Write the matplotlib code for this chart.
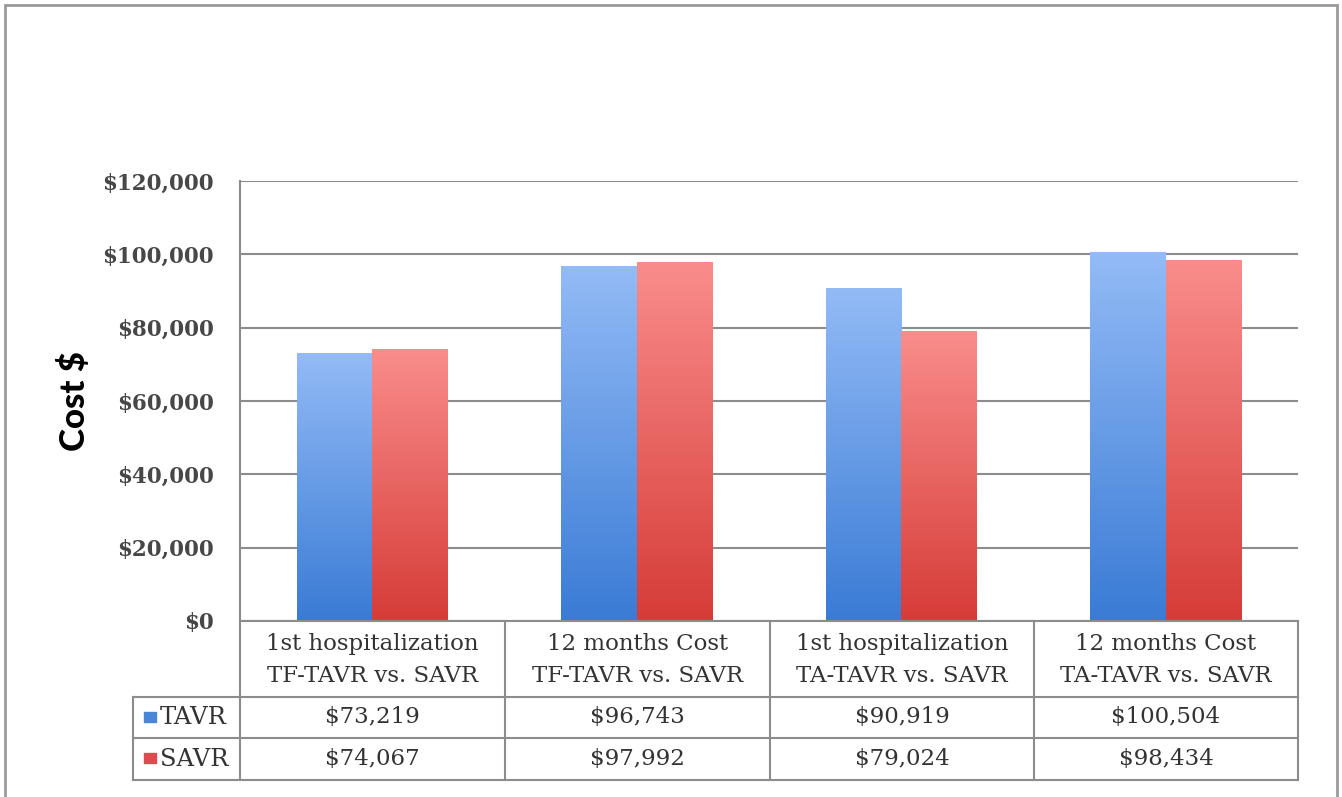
import matplotlib
matplotlib.use("Agg")
import matplotlib.pyplot as plt
import numpy as np
from matplotlib.patches import Rectangle
from matplotlib.lines import Line2D

categories = ["1st hospitalization\nTF-TAVR vs. SAVR",
              "12 months Cost\nTF-TAVR vs. SAVR",
              "1st hospitalization\nTA-TAVR vs. SAVR",
              "12 months Cost\nTA-TAVR vs. SAVR"]
series_names = ["TAVR", "SAVR"]
tavr = [73219, 96743, 90919, 100504]
savr = [74067, 97992, 79024, 98434]
yticks = [0, 20000, 40000, 60000, 80000, 100000, 120000]

W, H = 1342, 797
fig = plt.figure(figsize=(W / 100, H / 100), dpi=100)
fig.patch.set_facecolor("white")

def fx(px):
    return px / W

def fy(py):
    return 1 - py / H

serif = "DejaVu Serif"
ax_l, ax_r, ax_t, ax_b = 240, 1298, 181, 621
ax = fig.add_axes([fx(ax_l), fy(ax_b), fx(ax_r - ax_l), (ax_b - ax_t) / H])
ax.set_xlim(-0.5, len(categories) - 0.5)
ax.set_ylim(0, 120000)
ax.set_yticks(yticks)
ax.set_yticklabels(["${:,}".format(v) for v in yticks], fontfamily=serif,
                   fontsize=15.5, fontweight="bold", color="#474747")
ax.tick_params(axis="y", length=0, pad=19)
ax.set_xticks([])
for s in ax.spines.values():
    s.set_color("#8c8c8c")
    s.set_linewidth(1.5)
ax.spines["right"].set_visible(False)
ax.spines["top"].set_visible(False)
ax.grid(axis="y", color="#8c8c8c", linewidth=1.5)
ax.set_axisbelow(True)
ax.set_ylabel("Cost $", fontfamily="Lato", fontsize=25, fontweight="black",
              color="black", labelpad=8)

x = np.arange(len(categories))
bw = 0.285
grad_cols = {
    "TAVR": ("#3a7bd5", "#93bbf6"),
    "SAVR": ("#d63c38", "#f98d8b"),
}
for vals, off, name in [(tavr, -bw / 2, "TAVR"), (savr, bw / 2, "SAVR")]:
    bars = ax.bar(x + off, vals, bw, color="none", edgecolor="none")
    bot_c, top_c = grad_cols[name]
    cmap = matplotlib.colors.LinearSegmentedColormap.from_list(name, [bot_c, top_c])
    for b in bars:
        x0, y0 = b.get_x(), b.get_y()
        w, h = b.get_width(), b.get_height()
        grad = np.linspace(0, 1, 256).reshape(-1, 1)
        im = ax.imshow(grad, cmap=cmap, aspect="auto", origin="lower",
                       extent=[x0, x0 + w, y0, y0 + h], zorder=2)
        im.set_clip_path(b)
ax.set_xlim(-0.5, len(categories) - 0.5)
ax.set_ylim(0, 120000)

# data table below the axis
col_edges = [240, 505, 770, 1034, 1298]
row_lab_l = 133
y_head_b, y_r1_b, y_r2_b = 697, 738, 780
lc = "#8c8c8c"
def fline(x0, y0, x1, y1):
    fig.add_artist(Line2D([fx(x0), fx(x1)], [fy(y0), fy(y1)], color=lc, lw=1.5))

for xe in col_edges:
    fline(xe, ax_b, xe, y_r2_b)
fline(row_lab_l, y_head_b, row_lab_l, y_r2_b)
for yy in (y_head_b, y_r1_b, y_r2_b):
    fline(row_lab_l, yy, col_edges[-1], yy)

tc = "#333333"
fs = 16.5
for i, cat in enumerate(categories):
    cx = (col_edges[i] + col_edges[i + 1]) / 2
    fig.text(fx(cx), fy((ax_b + y_head_b) / 2 + 1), cat, ha="center", va="center",
             fontfamily=serif, fontsize=fs, color=tc, linespacing=1.55)
    fig.text(fx(cx), fy((y_head_b + y_r1_b) / 2), "${:,}".format(tavr[i]),
             ha="center", va="center", fontfamily=serif, fontsize=fs, color=tc)
    fig.text(fx(cx), fy((y_r1_b + y_r2_b) / 2), "${:,}".format(savr[i]),
             ha="center", va="center", fontfamily=serif, fontsize=fs, color=tc)

sq_cols = {"TAVR": "#4a86d8", "SAVR": "#dd4a4f"}
for name, (t, b) in zip(series_names, [(y_head_b, y_r1_b), (y_r1_b, y_r2_b)]):
    cy = (t + b) / 2
    fig.add_artist(Rectangle((fx(144), fy(cy + 4)), fx(12), 10 / H,
                             color=sq_cols[name], transform=fig.transFigure))
    fig.text(fx(160), fy(cy), name, ha="left", va="center", fontfamily=serif,
             fontsize=17.5, color=tc)

# outer frame
fig.add_artist(Rectangle((fx(5), fy(805)), fx(1332), 800 / H, fill=False,
                         edgecolor="#9a9a9a", lw=2, transform=fig.transFigure))

fig.savefig("out.png", dpi=100)
